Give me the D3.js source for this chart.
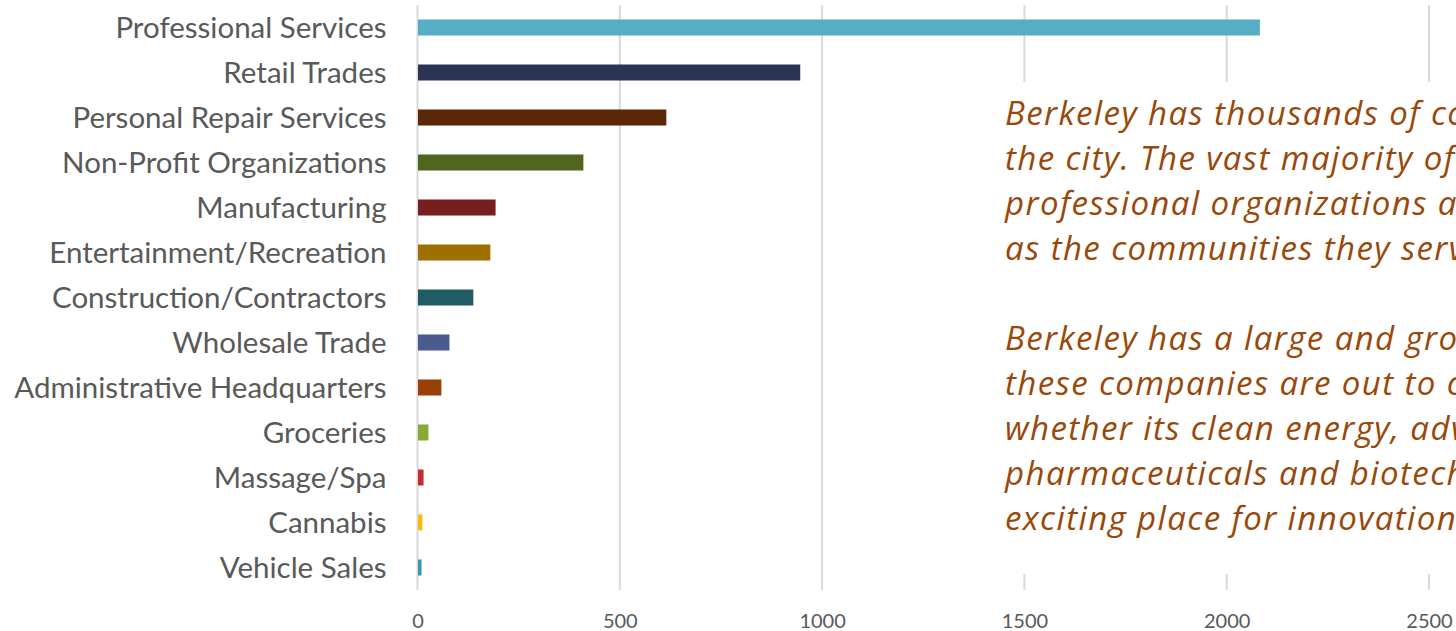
<!DOCTYPE html>
<html>
<head>
<meta charset="utf-8">
<script src="https://cdnjs.cloudflare.com/ajax/libs/d3/7.8.5/d3.min.js"></script>
<style>
	body { margin: 0; background: white; overflow: hidden; }
	svg { display: block; }
	.tick text { fill: #595959; }
</style>
</head>
<body>
<svg id="chart" width="1456" height="631"></svg>
<script>
// business categories, counts of companies
var categories = [
	"Professional Services", "Retail Trades", "Personal Repair Services",
	"Non-Profit Organizations", "Manufacturing", "Entertainment/Recreation",
	"Construction/Contractors", "Wholesale Trade", "Administrative Headquarters",
	"Groceries", "Massage/Spa", "Cannabis", "Vehicle Sales"
];
var counts = [2082, 946, 615, 410, 193, 180, 138, 79, 59, 27, 15, 12, 10];
var barColors = [
	"#56aec4", "#2b3553", "#5a2806", "#4f6520", "#771e1f", "#9e7000",
	"#215b66", "#4a5b8f", "#9a3f06", "#87aa37", "#c52e31", "#fdb913", "#3a97ae"
];
var xTicks = [0, 500, 1000, 1500, 2000, 2500];

var noteLines1 = [
	"Berkeley has thousands of companies",
	"the city. The vast majority of them",
	"professional organizations and",
	"as the communities they serve."
];
var noteLines2 = [
	"Berkeley has a large and growing",
	"these companies are out to change",
	"whether its clean energy, advanced",
	"pharmaceuticals and biotech,",
	"exciting place for innovation."
];

var svg = d3.select("#chart");
var margin = { left: 417.5, top: 5, bottom: 41 };

var x = d3.scaleLinear()
	.domain([0, 2500])
	.range([margin.left, 1429]);

var y = d3.scaleBand()
	.domain(categories)
	.range([margin.top, 631 - margin.bottom])
	.paddingInner(0.644)
	.paddingOuter(0.322);

// vertical gridlines
svg.append("g").attr("class", "grid")
	.selectAll("line")
	.data(xTicks)
	.enter().append("line")
	.attr("x1", function(d) { return x(d); })
	.attr("x2", function(d) { return x(d); })
	.attr("y1", margin.top)
	.attr("y2", 631 - margin.bottom)
	.attr("stroke", "#d9d9d9")
	.attr("stroke-width", 2);

// bars
svg.append("g").attr("class", "bars")
	.selectAll("rect")
	.data(categories)
	.enter().append("rect")
	.attr("x", x(0) + 0.5)
	.attr("y", function(d) { return y(d); })
	.attr("width", function(d, i) { return x(counts[i]) - x(0) - 0.5; })
	.attr("height", y.bandwidth())
	.attr("fill", function(d, i) { return barColors[i]; });

// category labels
var yAxis = d3.axisLeft(y).tickSize(0).tickPadding(31);
svg.append("g")
	.attr("transform", "translate(" + margin.left + ",0)")
	.call(yAxis)
	.call(function(g) { g.select(".domain").remove(); })
	.selectAll("text")
	.style("font-family", "Lato, 'Open Sans', sans-serif")
	.style("font-size", "29.5px")
	.attr("dy", "0.34em");

// value axis
var xAxis = d3.axisBottom(x).tickValues(xTicks).tickFormat(d3.format("d"))
	.tickSize(0).tickPadding(24);
svg.append("g")
	.attr("transform", "translate(0," + (631 - margin.bottom) + ")")
	.call(xAxis)
	.call(function(g) { g.select(".domain").remove(); })
	.selectAll("text")
	.style("font-family", "Lato, 'Open Sans', sans-serif")
	.style("font-size", "20px");

// text box over the right part of the chart
svg.append("rect")
	.attr("x", 990)
	.attr("y", 82)
	.attr("width", 470)
	.attr("height", 492)
	.attr("fill", "white");

var note = svg.append("g")
	.style("font-family", "'Open Sans', Lato, sans-serif")
	.style("font-style", "italic")
	.style("font-size", "33px")
	.style("letter-spacing", "1.4px")
	.attr("fill", "#99480a");

note.selectAll("text.p1")
	.data(noteLines1)
	.enter().append("text")
	.attr("class", "p1")
	.attr("x", 1005)
	.attr("y", function(d, i) { return 125 + i * 45; })
	.text(function(d) { return d; });

note.selectAll("text.p2")
	.data(noteLines2)
	.enter().append("text")
	.attr("class", "p2")
	.attr("x", 1005)
	.attr("y", function(d, i) { return 350 + i * 45; })
	.text(function(d) { return d; });
</script>
</body>
</html>
